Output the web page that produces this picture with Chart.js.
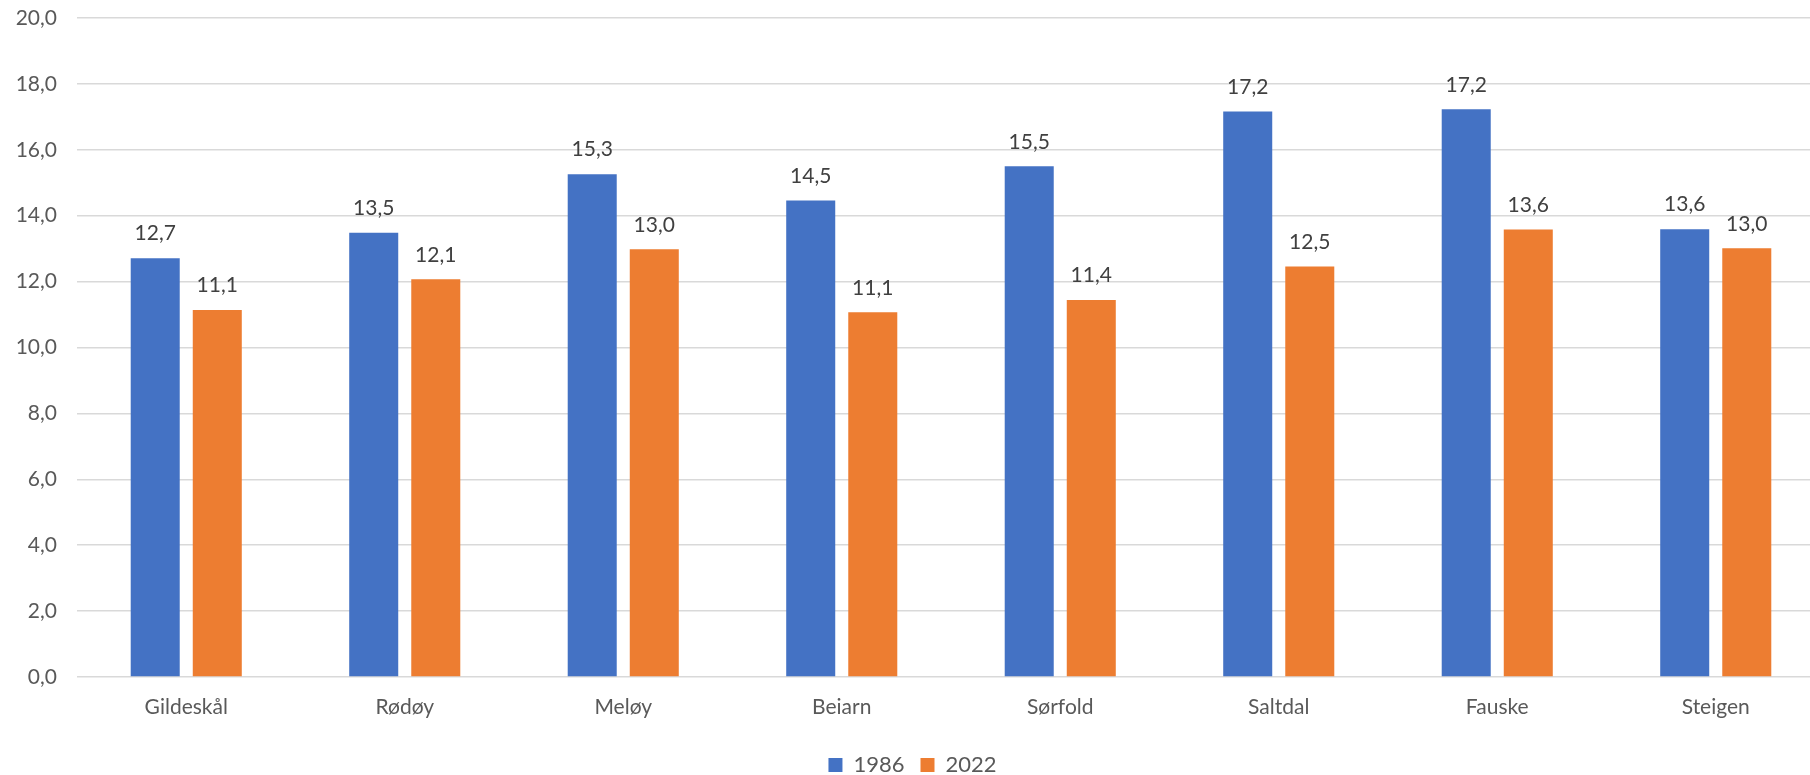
<!DOCTYPE html>
<html>
<head>
<meta charset="utf-8">
<script src="https://cdn.jsdelivr.net/npm/chart.js@4.4.1/dist/chart.umd.min.js"></script>
<style>
  html, body { margin: 0; padding: 0; background: #fff; overflow: hidden; }
  #wrap { width: 1825px; height: 775px; position: relative; }
</style>
</head>
<body>
<div id="wrap"><canvas id="chart"></canvas></div>
<script>
// Kommuner og verdier
const categories = ['Gildeskål', 'Rødøy', 'Meløy', 'Beiarn', 'Sørfold', 'Saltdal', 'Fauske', 'Steigen'];
const values1986 = [12.71, 13.48, 15.26, 14.46, 15.50, 17.16, 17.23, 13.59];
const values2022 = [11.14, 12.07, 12.98, 11.07, 11.44, 12.46, 13.58, 13.01];
const seriesNames = ['1986', '2022'];

const fmt = v => v.toFixed(1).replace('.', ',');
const textColor = '#595959';
const fontFamily = 'Lato, "Open Sans", sans-serif';

// simple value labels above each bar
const barLabels = {
  id: 'barLabels',
  afterDatasetsDraw(chart) {
    const ctx = chart.ctx;
    ctx.save();
    ctx.fillStyle = '#404040';
    ctx.font = '21px ' + fontFamily;
    ctx.textAlign = 'center';
    ctx.textBaseline = 'bottom';
    chart.data.datasets.forEach((ds, i) => {
      chart.getDatasetMeta(i).data.forEach((bar, j) => {
        ctx.fillText(fmt(ds.data[j]), bar.x, bar.y - 14);
      });
    });
    ctx.restore();
  }
};

// push the legend down to the very bottom like the original
const legendShift = {
  id: 'legendShift',
  afterLayout(chart) {
    const lg = chart.legend;
    const dy = 762 - (lg.top + lg.height / 2);
    lg.top += dy;
    lg.bottom += dy;
  }
};

new Chart(document.getElementById('chart'), {
  type: 'bar',
  data: {
    labels: categories,
    datasets: [
      { label: seriesNames[0], data: values1986, backgroundColor: '#4472C4' },
      { label: seriesNames[1], data: values2022, backgroundColor: '#ED7D31' }
    ]
  },
  options: {
    responsive: true,
    maintainAspectRatio: false,
    animation: false,
    categoryPercentage: 0.568,
    barPercentage: 0.79,
    layout: { padding: { top: 18, right: 0, bottom: 0, left: 0 } },
    plugins: {
      legend: {
        position: 'bottom',
        labels: {
          color: textColor,
          font: { family: fontFamily, size: 22 },
          boxWidth: 14,
          boxHeight: 14,
          padding: 16
        }
      },
      tooltip: { enabled: false }
    },
    scales: {
      x: {
        grid: { display: false },
        border: { display: false },
        ticks: { color: textColor, font: { family: fontFamily, size: 21 }, padding: 10 },
        afterFit(scale) { scale.height = 50; }
      },
      y: {
        min: 0,
        max: 20,
        ticks: {
          stepSize: 2,
          color: textColor,
          font: { family: fontFamily, size: 21 },
          padding: 20,
          callback: v => fmt(v)
        },
        grid: { color: '#D9D9D9', lineWidth: 1.5, drawTicks: false },
        border: { display: false },
        afterFit(scale) {
          scale.width = 77;
          scale.paddingTop = 0;
          scale.paddingBottom = 0;
        }
      }
    }
  },
  plugins: [barLabels, legendShift]
});
</script>
</body>
</html>
